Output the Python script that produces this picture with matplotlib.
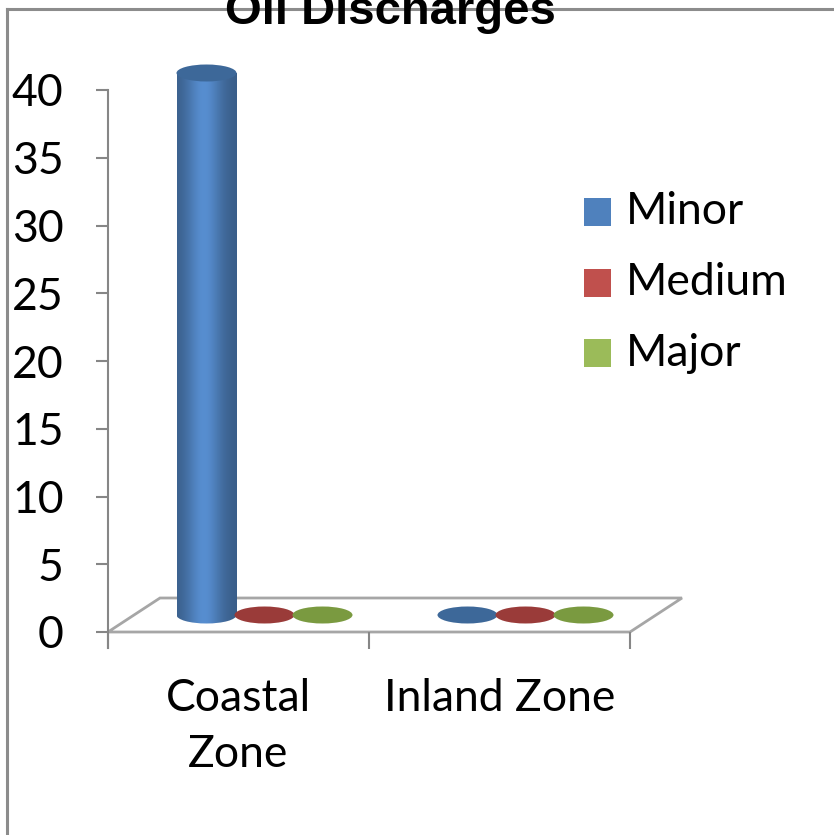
import numpy as np
import matplotlib.pyplot as plt
from matplotlib.patches import Rectangle, Ellipse, Polygon
from matplotlib.colors import to_rgb
from matplotlib.lines import Line2D

# Data
categories = ["Coastal\nZone", "Inland Zone"]
series_names = ["Minor", "Medium", "Major"]
minor = [40, 0]
medium = [0, 0]
major = [0, 0]
values = [minor, medium, major]

side_colors = ["#4F81BD", "#C0504D", "#9BBB59"]
top_colors = ["#3D6899", "#9A3B39", "#7A9A40"]

plt.rcParams["font.family"] = ["Lato", "DejaVu Sans"]
FS = 32

W, H = 834, 835
fig = plt.figure(figsize=(W / 100, H / 100), dpi=100)

# chart border + title (title is clipped by the top edge, as in the source)
fig.add_artist(Line2D([7 / W, 7 / W], [0, 1 - 9 / H], color="#8C8C8C", lw=2.2))
fig.add_artist(Line2D([7 / W, 1], [1 - 9 / H, 1 - 9 / H], color="#8C8C8C", lw=2.2))
fig.text(390 / W, 1 - 24 / H, "Oil Discharges", ha="center", va="baseline",
         fontsize=34, fontweight="bold", family="Liberation Sans")

x0, x1, ytop, ybot = 108, 630, 90, 632
ax = fig.add_axes([x0 / W, 1 - ybot / H, (x1 - x0) / W, (ybot - ytop) / H])
ax.set_xlim(-0.5, 1.5)
ax.set_ylim(0, 40)
ax.patch.set_visible(False)
for s in ax.spines.values():
    s.set_visible(False)

# depth of the floor (in data units)
px_x = 2.0 / (x1 - x0)
px_y = 40.0 / (ybot - ytop)
depth_x, depth_y = 52 * px_x, 34 * px_y

gray = "#A6A6A6"
floor = Polygon([[-0.5, 0], [1.5, 0], [1.5 + depth_x, depth_y], [-0.5 + depth_x, depth_y]],
                closed=True, facecolor="white", edgecolor=gray, lw=2, clip_on=False, zorder=1)
ax.add_patch(floor)

# y axis
ax.plot([-0.5, -0.5], [-16 * px_y, 40], color="#868686", lw=1.5, clip_on=False, zorder=2)
ax.set_yticks(np.arange(0, 41, 5))
ax.tick_params(axis="y", length=9, width=1.5, color="#868686", labelsize=FS, pad=23)

# x ticks: separators as minor ticks, labels at category centres
ax.set_xticks([0, 1])
ax.set_xticklabels(categories, fontsize=FS, linespacing=1.45)
ax.set_xticks([-0.5, 0.5, 1.5], minor=True)
ax.tick_params(axis="x", which="major", length=0, pad=33)
ax.tick_params(axis="x", which="minor", length=12, width=1.5, color="#868686")

# cylinders
bar_w = 60 * px_x
step = 58 * px_x
ell_h = 17 * px_y
base_y = depth_y / 2


def shade(color):
    r, g, b = to_rgb(color)
    t = np.linspace(0, 1, 100)
    f = 0.72 + 0.38 * np.exp(-((t - 0.45) / 0.3) ** 2)
    img = np.stack([np.clip(np.outer(np.ones(2), f * c), 0, 1) for c in (r, g, b)], axis=-1)
    return img


for i, vals in enumerate(values):
    for j, v in enumerate(vals):
        cx = j + depth_x / 2 + (i - 1) * step
        left = cx - bar_w / 2
        if v > 0:
            img = shade(side_colors[i])
            body = Rectangle((left, base_y), bar_w, v, transform=ax.transData)
            im = ax.imshow(img, extent=[left, left + bar_w, base_y - ell_h, base_y + v],
                           aspect="auto", zorder=3, interpolation="bilinear")
            im.set_clip_path(body)
            bottom = Ellipse((cx, base_y), bar_w, ell_h, transform=ax.transData)
            im2 = ax.imshow(img, extent=[left, left + bar_w, base_y - ell_h, base_y + ell_h],
                            aspect="auto", zorder=3, interpolation="bilinear")
            im2.set_clip_path(bottom)
        ax.add_patch(Ellipse((cx, base_y + v), bar_w, ell_h, facecolor=top_colors[i],
                             edgecolor="none", zorder=4, clip_on=False))

ax.set_xlim(-0.5, 1.5)
ax.set_ylim(0, 40)

# legend
for i, name in enumerate(series_names):
    yc = 212 + i * 70.5
    fig.add_artist(Rectangle((584 / W, 1 - (yc + 14) / H), 27 / W, 28 / H,
                             facecolor=side_colors[i], edgecolor="none"))
    fig.text(626 / W, 1 - yc / H, name, ha="left", va="center", fontsize=FS)

fig.savefig("out.png", dpi=100)
